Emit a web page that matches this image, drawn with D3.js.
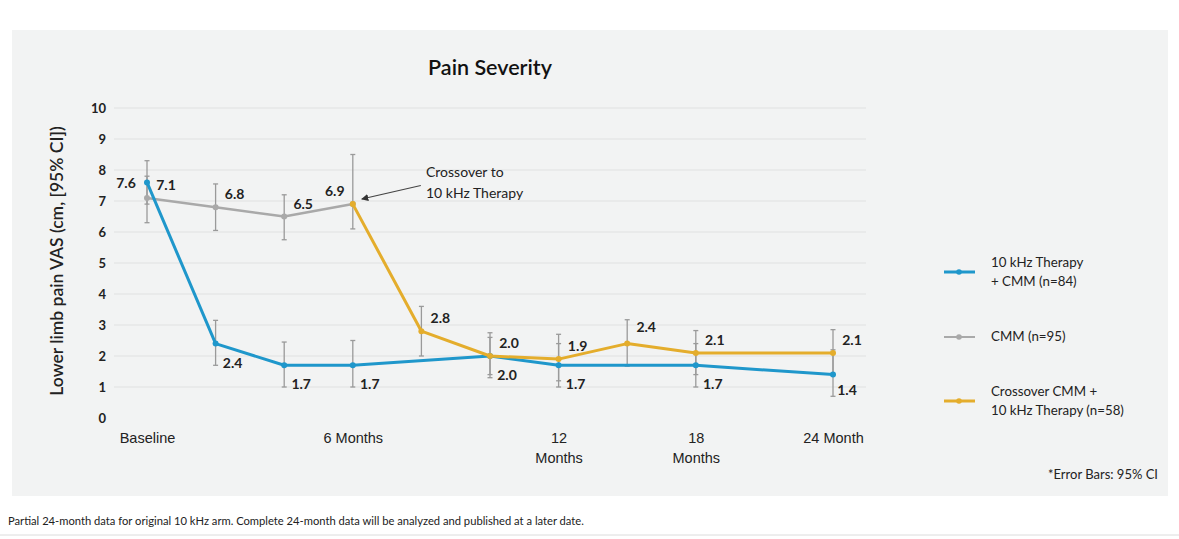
<!DOCTYPE html>
<html>
<head>
<meta charset="utf-8">
<script src="https://cdn.jsdelivr.net/npm/d3@7"></script>
<style>
  html, body { margin: 0; padding: 0; background: #ffffff; }
  svg { display: block; font-family: Lato, "Open Sans", sans-serif; }
</style>
</head>
<body>
<svg id="chart" width="1179" height="539"></svg>
<script>
// ---------- data ----------
const timepoints = ["Baseline","1M","3M","6M","7M","9M","12M","15M","18M","21M","24M"];
const tickLabels = {"Baseline":["Baseline"],"6M":["6 Months"],"12M":["12","Months"],"18M":["18","Months"],"24M":["24 Month"]};
const yTicks = [0,1,2,3,4,5,6,7,8,9,10];

const therapyValues   = [7.6, 2.4, 1.7, 1.7, null, 2.0, 1.7, null, 1.7, null, 1.4];
const therapyLow      = [6.9, 1.7, 1.0, 1.0, null, 1.3, 1.0, null, 1.0, null, 0.7];
const therapyHigh     = [8.3, 3.15, 2.45, 2.5, null, 2.75, 2.4, null, 2.4, null, 2.2];

const cmmValues       = [7.1, 6.8, 6.5, 6.9, null, null, null, null, null, null, null];
const cmmLow          = [6.3, 6.05, 5.75, 6.1, null, null, null, null, null, null, null];
const cmmHigh         = [7.8, 7.55, 7.2, 8.5, null, null, null, null, null, null, null];

const crossoverValues = [null, null, null, 6.9, 2.8, 2.0, 1.9, 2.4, 2.1, null, 2.1];
const crossoverLow    = [null, null, null, null, 2.0, 1.4, 1.2, 1.67, 1.4, null, 1.4];
const crossoverHigh   = [null, null, null, null, 3.6, 2.6, 2.7, 3.17, 2.82, null, 2.85];

// label placement codes (which side of the point the value label goes)
const therapyLabelPos   = ["left", "belowRight", "belowRight", "belowRight", null, "belowRight", "belowRight", null, "belowRight", null, "belowRight2"];
const cmmLabelPos       = ["aboveRight", "aboveRight", "aboveRight", "aboveLeft", null, null, null, null, null, null, null];
const crossoverLabelPos = [null, null, null, null, "aboveRight", "aboveRight", "aboveRight", "aboveRight2", "aboveRight", null, "aboveRight"];

// ---------- styles ----------
const COLORS = { therapy: "#1f97cb", cmm: "#a9a9a9", crossover: "#e4ad2c" };
const TEXT = "#222222";

const svg = d3.select("#chart");

// panel background
svg.append("rect").attr("x", 12).attr("y", 30).attr("width", 1156).attr("height", 466).attr("fill", "#f2f3f3");
// bottom rule
svg.append("line").attr("x1", 0).attr("x2", 1179).attr("y1", 535).attr("y2", 535).attr("stroke", "#dcdcdc").attr("stroke-width", 1);

const x = d3.scalePoint().domain(timepoints).range([147, 833]);
const y = d3.scaleLinear().domain([0, 10]).range([418, 108]);

// grid
svg.append("g").selectAll("line").data(yTicks.filter(d => d > 0)).join("line")
  .attr("x1", 114).attr("x2", 866)
  .attr("y1", d => y(d)).attr("y2", d => y(d))
  .attr("stroke", "#e0e1e1").attr("stroke-width", 1);

// y axis (labels only)
const yAxis = d3.axisLeft(y).tickValues(yTicks).tickSize(0).tickPadding(0);
const gy = svg.append("g").attr("transform", "translate(106,0)").call(yAxis);
gy.select(".domain").remove();
gy.selectAll("text").attr("font-size", 13).attr("font-weight", 700).attr("fill", TEXT)
  .attr("font-family", "Lato, sans-serif");

// y axis title
svg.append("text")
  .attr("transform", "translate(63,261) rotate(-90)")
  .attr("text-anchor", "middle").attr("font-size", 17.5).attr("font-weight", 600).attr("fill", TEXT)
  .text("Lower limb pain VAS (cm, [95% CI])");

// x axis labels
const xAxis = d3.axisBottom(x).tickSize(0).tickFormat(() => "");
const gx = svg.append("g").attr("transform", "translate(0,426)").call(xAxis);
gx.select(".domain").remove();
gx.selectAll(".tick").each(function(d) {
  const lines = tickLabels[d];
  if (!lines) return;
  const t = d3.select(this).select("text").attr("font-size", 14.5).attr("fill", TEXT).attr("dy", 0).attr("y", 17);
  lines.forEach((ln, i) => t.append("tspan").attr("x", 0).attr("dy", i === 0 ? 0 : 20).text(ln));
});

// title
svg.append("text").attr("x", 490).attr("y", 75).attr("text-anchor", "middle")
  .attr("font-size", 21.5).attr("font-weight", 600).attr("fill", "#111").text("Pain Severity");

// ---------- series ----------
function seriesData(vals, lo, hi, pos) {
  return timepoints.map((t, i) => ({ t, v: vals[i], lo: lo[i], hi: hi[i], pos: pos[i] })).filter(d => d.v != null);
}
const series = [
  { key: "cmm", data: seriesData(cmmValues, cmmLow, cmmHigh, cmmLabelPos), width: 2.5 },
  { key: "therapy", data: seriesData(therapyValues, therapyLow, therapyHigh, therapyLabelPos), width: 3 },
  { key: "crossover", data: seriesData(crossoverValues, crossoverLow, crossoverHigh, crossoverLabelPos), width: 3 }
];

const line = d3.line().x(d => x(d.t)).y(d => y(d.v));

// error bars first
const ebG = svg.append("g");
series.forEach(s => {
  s.data.filter(d => d.lo != null).forEach(d => {
    const cx = x(d.t);
    ebG.append("line").attr("x1", cx).attr("x2", cx).attr("y1", y(d.lo)).attr("y2", y(d.hi))
      .attr("stroke", "#9a9a9a").attr("stroke-width", 1.3);
    [d.lo, d.hi].forEach(v => ebG.append("line").attr("x1", cx - 2.5).attr("x2", cx + 2.5)
      .attr("y1", y(v)).attr("y2", y(v)).attr("stroke", "#9a9a9a").attr("stroke-width", 1.3));
  });
});

series.forEach(s => {
  svg.append("path").datum(s.data).attr("d", line).attr("fill", "none")
    .attr("stroke", COLORS[s.key]).attr("stroke-width", s.width).attr("stroke-linejoin", "round");
  svg.append("g").selectAll("circle").data(s.data).join("circle")
    .attr("cx", d => x(d.t)).attr("cy", d => y(d.v)).attr("r", 3)
    .attr("fill", COLORS[s.key]);
});

// value labels
const offsets = {
  left: [-21, 6], aboveRight: [19, -8], aboveLeft: [-18, -8], belowRight: [17, 24],
  belowRight2: [14, 20], aboveRight2: [19, -12]
};
const lblG = svg.append("g");
series.forEach(s => {
  s.data.filter(d => d.pos).forEach(d => {
    const o = offsets[d.pos];
    lblG.append("text").attr("x", x(d.t) + o[0]).attr("y", y(d.v) + o[1])
      .attr("text-anchor", "middle").attr("font-size", 14).attr("font-weight", 700).attr("fill", TEXT)
      .text(d.v.toFixed(1));
  });
});

// annotation
svg.append("defs").append("marker").attr("id", "arrow").attr("viewBox", "0 0 10 10")
  .attr("refX", 9).attr("refY", 5).attr("markerWidth", 6).attr("markerHeight", 6).attr("orient", "auto")
  .append("path").attr("d", "M0,0 L10,5 L0,10 z").attr("fill", "#333");
svg.append("line").attr("x1", x("6M") + 68).attr("y1", y(7.5)).attr("x2", x("6M") + 9).attr("y2", y(7.0) - 2)
  .attr("stroke", "#444").attr("stroke-width", 1.2).attr("marker-end", "url(#arrow)");
const ann = svg.append("text").attr("x", 426).attr("y", 177).attr("font-size", 14).attr("fill", TEXT);
ann.append("tspan").attr("x", 426).text("Crossover to");
ann.append("tspan").attr("x", 426).attr("dy", 21).text("10 kHz Therapy");

// legend
const legendItems = [
  { key: "therapy", lines: ["10 kHz Therapy", "+ CMM (n=84)"], cy: 272 },
  { key: "cmm", lines: ["CMM (n=95)"], cy: 337 },
  { key: "crossover", lines: ["Crossover CMM +", "10 kHz Therapy (n=58)"], cy: 401 }
];
const lg = svg.append("g");
legendItems.forEach(it => {
  lg.append("line").attr("x1", 944).attr("x2", 975).attr("y1", it.cy).attr("y2", it.cy)
    .attr("stroke", COLORS[it.key]).attr("stroke-width", it.key === "cmm" ? 2 : 3);
  lg.append("circle").attr("cx", 959).attr("cy", it.cy).attr("r", 2.8).attr("fill", COLORS[it.key]);
  const t = lg.append("text").attr("font-size", 13.3).attr("fill", TEXT);
  const n = it.lines.length;
  it.lines.forEach((ln, i) => t.append("tspan").attr("x", 991)
    .attr("y", it.cy + 4 + (i - (n - 1) / 2) * 19).text(ln));
});

svg.append("text").attr("x", 1158).attr("y", 479).attr("text-anchor", "end")
  .attr("font-size", 13).attr("fill", TEXT).text("*Error Bars: 95% CI");

svg.append("text").attr("x", 8).attr("y", 525).attr("font-size", 11.2).attr("fill", TEXT)
  .text("Partial 24-month data for original 10 kHz arm. Complete 24-month data will be analyzed and published at a later date.");
</script>
</body>
</html>
